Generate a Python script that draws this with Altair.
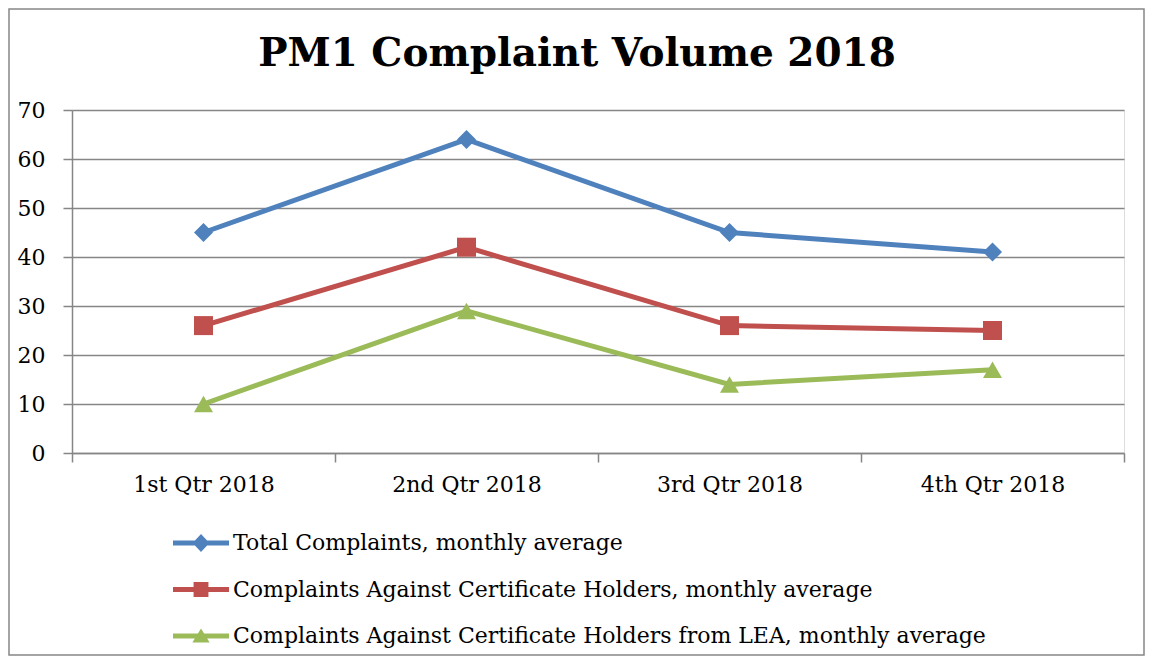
import altair as alt
import pandas as pd

quarters = ["1st Qtr 2018", "2nd Qtr 2018", "3rd Qtr 2018", "4th Qtr 2018"]
series_names = [
    "Total Complaints, monthly average",
    "Complaints Against Certificate Holders, monthly average",
    "Complaints Against Certificate Holders from LEA, monthly average",
]
total = [45, 64, 45, 41]
against = [26, 42, 26, 25]
lea = [10, 29, 14, 17]
colors = ["#4F81BD", "#C0504D", "#9BBB59"]
marker_shapes = ["diamond", "square", "triangle-up"]

rows = []
for name, vals in zip(series_names, [total, against, lea]):
    for q, v in zip(quarters, vals):
        rows.append({"quarter": q, "series": name, "value": v})
df = pd.DataFrame(rows)

FONT = "DejaVu Serif"
GRID = "#868686"

# legend symbols: line segment + marker (units of 12px)
line_part = "M-3.667,-0.21 L1,-0.21 L1,0.21 L-3.667,0.21 Z "
legend_paths = [
    line_part + "M-1.333,-0.75 L-0.633,0 L-1.333,0.75 L-2.033,0 Z",
    line_part + "M-1.953,-0.62 L-0.713,-0.62 L-0.713,0.62 L-1.953,0.62 Z",
    line_part + "M-1.333,-0.62 L-0.613,0.55 L-2.053,0.55 Z",
]

x_enc = alt.X(
    "quarter:N",
    sort=quarters,
    bandPosition=0.5,
    scale=alt.Scale(type="band", paddingInner=0, paddingOuter=0),
    axis=alt.Axis(
        title=None, labelAngle=0, tickBand="extent", grid=False,
        domainColor=GRID, domainWidth=1.5, tickColor=GRID, tickWidth=1.5, tickSize=9,
        labelFont=FONT, labelFontSize=22, labelColor="black", labelPadding=12,
    ),
)
y_enc = alt.Y(
    "value:Q",
    scale=alt.Scale(domain=[0, 70], nice=False),
    axis=alt.Axis(
        title=None, values=list(range(0, 71, 10)), grid=True,
        gridColor=GRID, gridWidth=1.5, domainColor=GRID, domainWidth=1.5,
        tickColor=GRID, tickWidth=1.5, tickSize=9,
        labelFont=FONT, labelFontSize=22, labelColor="black", labelPadding=18,
    ),
)
color_scale = alt.Scale(domain=series_names, range=colors)

legend_kw = dict(
    title=None, orient="none", legendX=133, legendY=421, direction="vertical",
    symbolSize=576, symbolStrokeWidth=0, labelFont=FONT, labelFontSize=22,
    labelColor="black", labelOffset=4, rowPadding=23.5, padding=0, labelLimit=1000,
    symbolOpacity=1,
)

base = alt.Chart(df)

lines = base.mark_line(strokeWidth=5).encode(
    x=x_enc, y=y_enc,
    color=alt.Color("series:N", scale=color_scale, legend=None),
)

marker_layers = []
for name, shp in zip(series_names, marker_shapes):
    marker_layers.append(
        base.transform_filter(alt.datum.series == name)
        .mark_point(shape=shp, filled=True, opacity=1, size=361)
        .encode(x=x_enc, y=y_enc,
                color=alt.Color("series:N", scale=color_scale, legend=None))
    )

legend_layer = base.mark_point(filled=True, opacity=0, size=1).encode(
    x=x_enc, y=y_enc,
    color=alt.Color("series:N", scale=color_scale, legend=alt.Legend(**legend_kw)),
    shape=alt.Shape("series:N", scale=alt.Scale(domain=series_names, range=legend_paths),
                    legend=alt.Legend(**legend_kw)),
)

frame = alt.Chart(pd.DataFrame({"a": [0]})).mark_rect(
    fill="transparent", stroke=GRID, strokeWidth=1.5
).encode(
    x=alt.value(-63), x2=alt.value(1072), y=alt.value(-101), y2=alt.value(545)
)

chart = alt.layer(frame, legend_layer, lines, *marker_layers).resolve_legend(
    color="independent", shape="independent"
).properties(
    width=1052,
    height=343,
    title=alt.TitleParams(
        "PM1 Complaint Volume 2018", font=FONT, fontSize=39, fontWeight="bold",
        color="black", anchor="middle", dx=-21, offset=-97, baseline="alphabetic",
    ),
    autosize=alt.AutoSizeParams(type="none"),
    padding={"left": 64, "top": 102, "right": 21, "bottom": 203},
).configure_view(strokeWidth=0).configure(background="white")

chart.save("out.html", embed_options={"renderer": "svg", "actions": False})
